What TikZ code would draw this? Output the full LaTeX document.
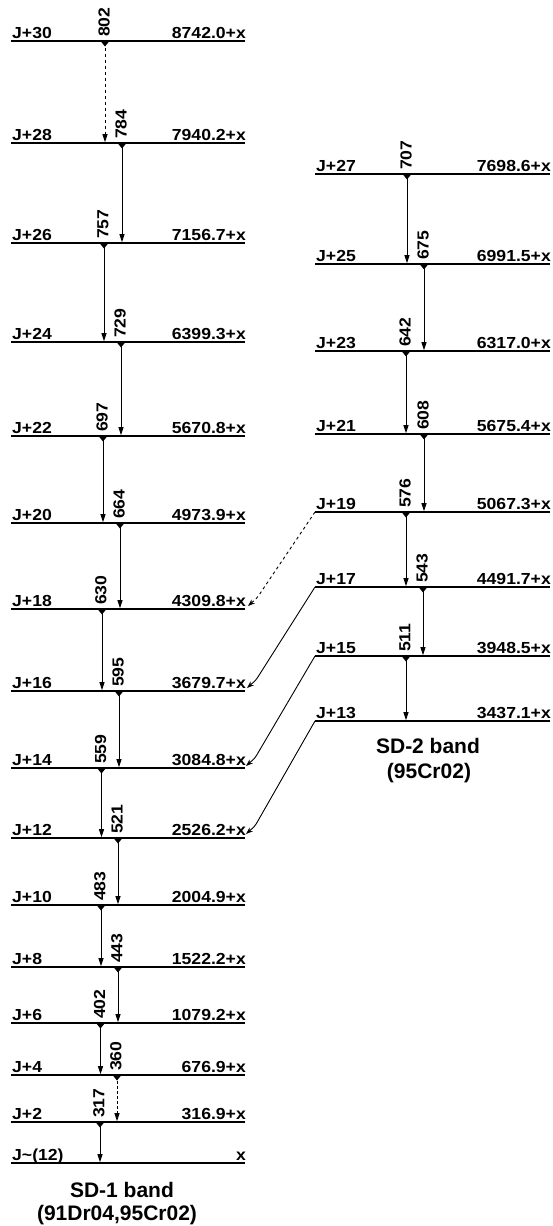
\documentclass[tikz,border=0pt]{standalone}
\usepackage{fontspec}
\newfontfamily\labfont{Liberation Sans}[FakeStretch=1.1]
\newfontfamily\titfont{Liberation Sans}
\usetikzlibrary{arrows.meta}
\tikzset{
  lvline/.style={line width=1.8pt, line cap=butt},
  lvtxt/.style={font={\labfont\bfseries\fontsize{16}{19}\selectfont}, inner sep=0pt},
  rottxt/.style={font={\labfont\bfseries\fontsize{16}{19}\selectfont}, inner sep=0pt, rotate=90, anchor=west},
  trans/.style={line width=0.9pt, -{Triangle[length=8pt,width=5pt]}},
  linkarrow/.style={line width=0.9pt, rounded corners=3pt, -{Stealth[length=7pt,width=5pt]}},
  marker/.style={fill=black},
  bandtitle/.style={font={\titfont\bfseries\fontsize{21}{25}\selectfont}, inner sep=0pt, anchor=base}
}
\begin{document}
\begin{tikzpicture}[x=1pt,y=-1pt]
\useasboundingbox (0,0) rectangle (553,1226);
% SD-1 levels
\foreach \n/\jl/\ee/\y in {30/J+30/8742.0+x/41, 28/J+28/7940.2+x/143, 26/J+26/7156.7+x/243,
  24/J+24/6399.3+x/342, 22/J+22/5670.8+x/436, 20/J+20/4973.9+x/523, 18/J+18/4309.8+x/609,
  16/J+16/3679.7+x/691, 14/J+14/3084.8+x/768, 12/J+12/2526.2+x/838, 10/J+10/2004.9+x/905,
  8/J+8/1522.2+x/967, 6/J+6/1079.2+x/1023, 4/J+4/676.9+x/1075, 2/J+2/316.9+x/1122,
  0/{J\textasciitilde(12)}/x/1163}{
  \coordinate (L\n a) at (11,\y);
  \coordinate (L\n b) at (245,\y);
  \draw[lvline] (L\n a) -- (L\n b);
  \node[lvtxt, anchor=base west] (Lj\n) at (12,\y-3) {\jl};
  \node[lvtxt, anchor=base east] (Le\n) at (246,\y-3) {\ee};
}
% SD-2 levels
\foreach \n/\jl/\ee/\y in {27/J+27/7698.6+x/174, 25/J+25/6991.5+x/264, 23/J+23/6317.0+x/351,
  21/J+21/5675.4+x/434, 19/J+19/5067.3+x/512, 17/J+17/4491.7+x/587, 15/J+15/3948.5+x/656,
  13/J+13/3437.1+x/721}{
  \coordinate (R\n a) at (315,\y);
  \coordinate (R\n b) at (550,\y);
  \draw[lvline] (R\n a) -- (R\n b);
  \node[lvtxt, anchor=base west] (Rj\n) at (316,\y-3) {\jl};
  \node[lvtxt, anchor=base east] (Re\n) at (551,\y-3) {\ee};
}
% transitions
\foreach \g/\x/\ys/\ye/\sty in {802/105/41/143/dashed, 784/122/143/243/solid, 757/104/243/342/solid,
  729/121/342/436/solid, 697/103/436/523/solid, 664/120/523/609/solid, 630/102/609/691/solid,
  595/119/691/768/solid, 559/101.5/768/838/solid, 521/118/838/905/solid, 483/101/905/967/solid,
  443/118/967/1023/solid, 402/100.5/1023/1075/solid, 360/117/1075/1122/densely dashed,
  317/100/1122/1163/solid,
  707/407/174/264/solid, 675/424/264/351/solid, 642/406/351/434/solid, 608/424/434/512/solid,
  576/406/512/587/solid, 543/423/587/656/solid, 511/406/656/721/solid}{
  \coordinate (s\g) at (\x,\ys+0.8);
  \coordinate (e\g) at (\x,\ye-0.8);
  \fill[marker] (\x-4.5,\ys) -- (\x+4.5,\ys) -- (\x,\ys+5.5) -- cycle;
  \draw[trans,\sty] (s\g) -- (e\g);
  \node[rottxt] (n\g) at (\x-1,\ys-4) {\g};
}
% links between bands
\coordinate (k18) at (248,606);
\coordinate (k16) at (247,688);
\coordinate (k14) at (246,766);
\coordinate (k12) at (246,834);
\draw[linkarrow,dashed] (R19a) -- (257,598) -- (k18);
\draw[linkarrow] (R17a) -- (256,680) -- (k16);
\draw[linkarrow] (R15a) -- (255,758) -- (k14);
\draw[linkarrow] (R13a) -- (255,826) -- (k12);
% titles
\node[bandtitle] (t1) at (122,1197) {SD-1 band};
\node[bandtitle] (t1b) at (117,1220) {(91Dr04,95Cr02)};
\node[bandtitle] (t2) at (428,753) {SD-2 band};
\node[bandtitle] (t2b) at (429,778) {(95Cr02)};
\end{tikzpicture}
\end{document}
